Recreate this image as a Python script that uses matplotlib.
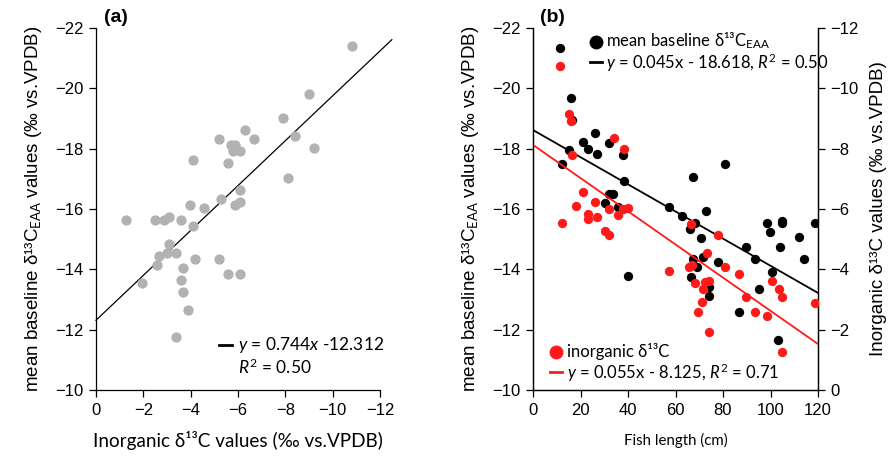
import matplotlib
matplotlib.use("Agg")
import matplotlib.pyplot as plt
import numpy as np

plt.rcParams['font.family'] = ['Liberation Sans', 'DejaVu Sans']
plt.rcParams['mathtext.fontset'] = 'custom'
plt.rcParams['mathtext.rm'] = 'Lato'
plt.rcParams['mathtext.it'] = 'Lato:italic'
plt.rcParams['mathtext.bf'] = 'Lato:bold'

# ---------------- Panel (a) data ----------------
inorg_a = [-10.81, -9.01, -7.89, -6.29, -5.19, -6.68, -8.40, -5.70, -5.89, -5.78, -6.09,
           -4.09, -5.59, -9.22, -8.10, -6.09, -5.27, -3.97, -4.58, -5.88, -6.09,
           -1.27, -2.48, -2.88, -3.09, -3.58, -4.09, -3.09, -2.66, -2.99, -3.38,
           -2.56, -4.19, -5.19, -3.69, -1.96, -3.58, -5.59, -6.09, -3.69, -3.88, -3.38]
eaa_a = [-21.40, -19.81, -19.02, -18.62, -18.32, -18.32, -18.42, -18.12, -18.12, -17.92, -17.92,
         -17.62, -17.51, -18.02, -17.03, -16.63, -16.33, -16.13, -16.03, -16.13, -16.23,
         -15.63, -15.63, -15.63, -15.73, -15.63, -15.44, -14.84, -14.44, -14.55, -14.55,
         -14.13, -14.34, -14.34, -14.04, -13.54, -13.65, -13.85, -13.85, -13.25, -12.65, -11.77]
slope_a, icpt_a = 0.744, -12.312
xticks_a = [0, -2, -4, -6, -8, -10, -12]
yticks = [-22, -20, -18, -16, -14, -12, -10]

# ---------------- Panel (b) data ----------------
len_black = [11.4, 15.9, 16.6, 26.2, 21.2, 23.3, 26.8, 31.9, 38.0, 15.2, 12.3, 80.8, 67.2, 38.4,
             31.9, 33.8, 30.3, 35.6, 57.3, 72.8, 62.6, 68.2, 66.1, 70.7, 89.5, 93.6, 67.5, 71.4,
             69.2, 77.8, 98.7, 99.8, 104.8, 104.8, 104.0, 111.9, 118.9, 114.2, 100.5, 95.3,
             66.5, 74.2, 74.1, 86.7, 103.3, 39.9]
eaa_black = [-21.33, -19.68, -18.95, -18.53, -18.23, -17.98, -17.82, -18.20, -17.79, -17.94, -17.48,
             -17.49, -17.07, -16.94, -16.49, -16.49, -16.21, -16.08, -16.06, -15.94, -15.78, -15.52,
             -15.33, -15.03, -14.75, -14.35, -14.35, -14.40, -14.07, -14.24, -15.55, -15.25, -15.60,
             -15.55, -14.75, -15.08, -15.55, -14.35, -13.92, -13.35, -13.74, -13.42, -13.13, -12.58,
             -11.66, -13.78]
len_red = [11.4, 15.2, 15.9, 16.6, 34.1, 38.4, 21.2, 26.2, 18.0, 32.1, 38.0, 40.1, 12.2, 23.3,
           23.3, 26.8, 35.9, 30.3, 31.9, 57.3, 66.4, 77.9, 73.1, 65.8, 66.8, 80.8, 86.7, 68.2,
           72.4, 74.2, 71.7, 71.0, 69.3, 74.0, 89.5, 93.6, 98.7, 100.5, 103.5, 104.8, 118.9, 104.8]
inorg_red = [-10.74, -9.14, -8.92, -7.79, -8.34, -8.00, -6.58, -6.22, -6.10, -6.01, -6.00, -6.02,
             -5.55, -5.83, -5.66, -5.74, -5.80, -5.26, -5.14, -3.94, -5.49, -5.15, -4.55, -4.07,
             -4.14, -4.07, -3.83, -3.54, -3.57, -3.62, -3.34, -2.93, -2.58, -1.93, -3.07, -2.60,
             -2.46, -3.62, -3.34, -3.07, -2.89, -1.27]
slope_black, icpt_black = 0.045, -18.618
slope_red, icpt_red = 0.055, -8.125
xticks_b = [0, 20, 40, 60, 80, 100, 120]
yticks_right = [-12, -10, -8, -6, -4, -2, 0]

W, H = 893, 465
fig = plt.figure(figsize=(W / 100, H / 100), dpi=100)

def fx(px):
    return px / W

def fy(py):
    return 1 - py / H

tick_fs = 12
lab_font = 'Liberation Sans'
cal_font = 'Lato'
gray = '#b2b2b2'
red = '#ff1a1a'
leg_fs = 12

# ---- Panel (a)
axa = fig.add_axes([fx(96), fy(390), fx(380) - fx(96), fy(28) - fy(390)])
axa.scatter(inorg_a, eaa_a, s=55, color=gray, linewidths=0, zorder=3)
xl = np.array([0, -12.5])
axa.plot(xl, slope_a * xl + icpt_a, color='black', lw=0.9, clip_on=False, zorder=2)
axa.set_xlim(0, -12)
axa.set_ylim(-10, -22)
axa.set_xticks(xticks_a)
axa.set_yticks(yticks)
axa.spines['top'].set_visible(False)
axa.spines['right'].set_visible(False)
for s in axa.spines.values():
    s.set_linewidth(0.9)
axa.tick_params(direction='out', length=5, width=0.9, labelsize=tick_fs, pad=4)
axa.set_xlabel('Inorganic δ¹³C values (‰ vs.VPDB)', fontsize=13.6, family=cal_font, labelpad=10)
axa.set_ylabel('mean baseline δ¹³C$_{\\mathrm{EAA}}$ values (‰ vs.VPDB)', fontsize=13.5,
               family=lab_font, labelpad=8)
fig.text(fx(104), fy(18), '(a)', fontsize=14, fontweight='bold', family=lab_font, va='center')
fig.add_artist(plt.Line2D([fx(219), fx(232)], [fy(345), fy(345)], color='black', lw=2))
fig.text(fx(238), fy(345), r'$\mathit{y}$ = 0.744$\mathit{x}$ -12.312', fontsize=12.5,
         family=cal_font, va='center')
fig.text(fx(238), fy(367), r'$\mathit{R}^2$ = 0.50', fontsize=12.5, family=cal_font, va='center')

# ---- Panel (b)
axb = fig.add_axes([fx(533), fy(390), fx(818) - fx(533), fy(28) - fy(390)])
axr = axb.twinx()
axb.scatter(len_black, eaa_black, s=45, color='black', linewidths=0, zorder=3)
axr.scatter(len_red, inorg_red, s=45, color=red, linewidths=0, zorder=4)
xb = np.array([0, 120])
axb.plot(xb, slope_black * xb + icpt_black, color='black', lw=1.3, zorder=2)
axr.plot(xb, slope_red * xb + icpt_red, color=red, lw=1.3, zorder=2)
axb.set_xlim(0, 120)
axb.set_ylim(-10, -22)
axr.set_ylim(0, -12)
axb.set_xticks(xticks_b)
axb.set_yticks(yticks)
axr.set_yticks(yticks_right)
for ax in (axb, axr):
    ax.spines['top'].set_visible(False)
    for s in ax.spines.values():
        s.set_linewidth(0.9)
    ax.tick_params(direction='out', length=5, width=0.9, labelsize=tick_fs, pad=4)
axb.set_xlabel('Fish length (cm)', fontsize=10.8, family=cal_font, labelpad=11)
axb.set_ylabel('mean baseline δ¹³C$_{\\mathrm{EAA}}$ values (‰ vs.VPDB)', fontsize=13.5,
               family=lab_font, labelpad=8)
axr.set_ylabel('Inorganic δ¹³C values (‰ vs.VPDB)', fontsize=13.5, family=lab_font,
               labelpad=8)
fig.text(fx(540), fy(18), '(b)', fontsize=14, fontweight='bold', family=lab_font, va='center')

# legend b
fig.add_artist(plt.Line2D([fx(596)], [fy(42)], marker='o', ms=9, color='black', lw=0))
fig.text(fx(606), fy(41), 'mean baseline δ¹³C$_{\\mathrm{EAA}}$', fontsize=leg_fs,
         family=cal_font, va='center')
fig.add_artist(plt.Line2D([fx(590), fx(602)], [fy(62), fy(62)], color='black', lw=2))
fig.text(fx(606), fy(63), r'$\mathit{y}$ = 0.045x - 18.618, $\mathit{R}^2$ = 0.50',
         fontsize=leg_fs, family=cal_font, va='center')
fig.add_artist(plt.Line2D([fx(556)], [fy(352)], marker='o', ms=9, color=red, lw=0))
fig.text(fx(567), fy(351), 'inorganic δ¹³C', fontsize=leg_fs, family=cal_font, va='center')
fig.add_artist(plt.Line2D([fx(550), fx(562)], [fy(372), fy(372)], color=red, lw=2))
fig.text(fx(567), fy(373), r'$\mathit{y}$ = 0.055x - 8.125, $\mathit{R}^2$ = 0.71',
         fontsize=leg_fs, family=cal_font, va='center')

fig.savefig('out.png', dpi=100)
